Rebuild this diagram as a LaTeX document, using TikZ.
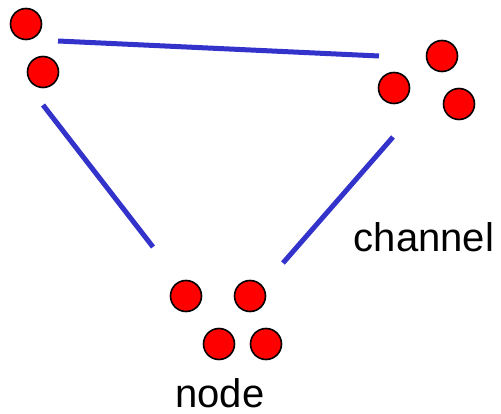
\documentclass[tikz,border=0pt]{standalone}
\usepackage{fontspec}
\setmainfont{Liberation Sans}
\usepackage{tikz}

\tikzset{
  dot/.style = {circle, draw = black, fill = red, line width = 1.6pt, minimum size = 31pt, inner sep = 0pt},
  link/.style = {line width = 5pt, color = linkblue},
  caption/.style = {black, inner sep = 0pt, anchor = base, font = \fontsize{40}{48}\selectfont}
}
\definecolor{linkblue}{RGB}{51, 51, 204}

\begin{document}
\begin{tikzpicture} [x = 1pt, y = -1pt]
\useasboundingbox (0, 0) rectangle (501, 414);
% the three clusters
\node[dot] (a1) at (26, 24){};
\node[dot] (a2) at (43, 72){};
\node[dot] (b1) at (442, 56){};
\node[dot] (b2) at (394, 88){};
\node[dot] (b3) at (459, 104){};
\node[dot] (c1) at (186, 296){};
\node[dot] (c2) at (250, 296){};
\node[dot] (c3) at (219, 344){};
\node[dot] (c4) at (266, 344){};
% channel ends
\coordinate (ab0) at (58, 41);
\coordinate (ab1) at (379, 56);
\coordinate (ac0) at (43, 105);
\coordinate (ac1) at (153, 247);
\coordinate (bc0) at (393, 137);
\coordinate (bc1) at (283, 263);
\draw[link] (ab0) -- (ab1);
\draw[link] (ac0) -- (ac1);
\draw[link] (bc0) -- (bc1);
\node[caption] (chan) at (424, 252){channel};
\node[caption] (nd) at (220, 407){node};
\end{tikzpicture}
\end{document}
